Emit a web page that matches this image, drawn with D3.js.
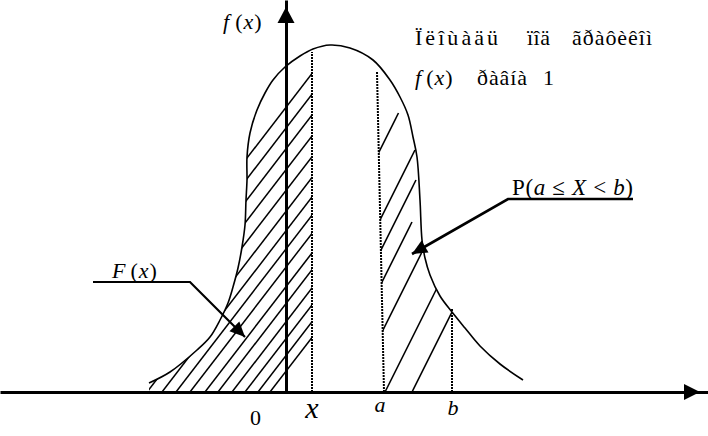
<!DOCTYPE html>
<html>
<head>
<meta charset="utf-8">
<script src="https://cdn.jsdelivr.net/npm/d3@7"></script>
<style>
body { margin: 0; background: #fff; }
text { font-family: "Liberation Serif", "Times New Roman", serif; fill: #000; }
.it { font-style: italic; }
</style>
</head>
<body>
<script>
// drawing units: u = right of the f(x) axis, v = above the x axis
var curveU = [-137,-116,-89,-76,-66,-58,-53,-48,-44,-41,-40,-39,-39,-36,-29,-21,-13,-1,14,27,44,64,87,104,114,122,127,131,134,136,139,144,154,166,179,194,214,237];
var curveV = [9,20,42,55,72,89,105,124,145,167,192,212,235,259,282,299,312,325,336,343,347,344,332,312,295,277,255,235,192,152,134,117,96,80,64,46,28,12];

var xMark = 26, xMarkTop = 340;          // vertical at x
var aBottom = 98, aTopU = 91, aTopV = 320; // vertical at a (drawn a bit slanted)
var bMark = 166, bMarkTop = 83;          // vertical at b

var leftSlope = 1.3;
var leftHatch = [-219,-203,-187,-171,-155,-139,-124,-110,-96,-81,-68,-54,-41,-28,-16];
var rightSlope = 2;
var rightHatch = [-27, 8, 24, 41, 66, 99, 126];
var rightTop = [279, 242, 212, 170, 139, 105, 82];

var fLeaderU = [-193, -96, -41], fLeaderV = [110, 110, 55];
var pLeaderU = [347, 222, 126], pLeaderV = [193, 193, 138];

var axisEnds = { x: [-286, 414], y: [-44, 385] };

var W = 708, H = 436;
var x = d3.scaleLinear().domain([-286, 422]).range([0, W]);
var y = d3.scaleLinear().domain([0, 392]).range([392, 0]);

var svg = d3.select('body').append('svg').attr('width', W).attr('height', H);
var defs = svg.append('defs');

var pts = d3.zip(curveU, curveV);
var smooth = d3.curveCatmullRom.alpha(0.5);
var line = d3.line().x(d => x(d[0])).y(d => y(d[1])).curve(smooth);
var area = d3.area().x(d => x(d[0])).y0(y(0)).y1(d => y(d[1])).curve(smooth);
var seg = d3.line().x(d => x(d[0])).y(d => y(d[1]));

// arrow head at the end of p0->p1 (drawing units), len/half in px
function head(p0, p1, len, half) {
	var x0 = x(p0[0]), y0 = y(p0[1]), x1 = x(p1[0]), y1 = y(p1[1]);
	var dx = x1 - x0, dy = y1 - y0, n = Math.hypot(dx, dy);
	dx /= n; dy /= n;
	var bx = x1 - dx * len, by = y1 - dy * len;
	svg.append('path')
		.attr('d', 'M' + x1 + ',' + y1 + 'L' + (bx - dy * half) + ',' + (by + dx * half) + 'L' + (bx + dy * half) + ',' + (by - dx * half) + 'Z')
		.attr('fill', '#000');
}

// clips
defs.append('clipPath').attr('id', 'under').append('path').attr('d', area(pts));
defs.append('clipPath').attr('id', 'leftOfX').append('rect')
	.attr('x', 0).attr('y', 0).attr('width', x(xMark)).attr('height', H);
var aSlant = (aBottom - aTopU) / aTopV;
defs.append('clipPath').attr('id', 'ab').append('path')
	.attr('d', seg([[aBottom, 0], [aBottom - aSlant * 420, 420], [bMark, 420], [bMark, 0]]) + 'Z');

// hatching, F(x)
svg.append('g').attr('clip-path', 'url(#under)')
	.append('g').attr('clip-path', 'url(#leftOfX)')
	.selectAll('path').data(leftHatch).join('path')
	.attr('d', d => seg([[d, 0], [d + 400 / leftSlope, 400]]))
	.attr('stroke', '#000').attr('stroke-width', 1.5).attr('fill', 'none');

// hatching, P(a <= X < b)
svg.append('g').attr('clip-path', 'url(#under)')
	.append('g').attr('clip-path', 'url(#ab)')
	.selectAll('path').data(d3.zip(rightHatch, rightTop)).join('path')
	.attr('d', d => seg([[d[0], 0], [d[0] + d[1] / rightSlope, d[1]]]))
	.attr('stroke', '#000').attr('stroke-width', 1.6).attr('fill', 'none');

// dotted verticals
svg.selectAll('path.vert')
	.data([[[xMark, 0], [xMark, xMarkTop]], [[aBottom, 0], [aTopU, aTopV]], [[bMark, 0], [bMark, bMarkTop]]])
	.join('path').attr('class', 'vert')
	.attr('d', seg)
	.attr('stroke', '#000').attr('stroke-width', 2).attr('stroke-dasharray', '2,1').attr('fill', 'none');

// the curve
svg.append('path').attr('d', line(pts))
	.attr('fill', 'none').attr('stroke', '#000').attr('stroke-width', 1.6);

// axes
var xa = x.copy().domain([axisEnds.x[0], axisEnds.x[1] - 8]);
var ya = y.copy().domain([axisEnds.y[0], axisEnds.y[1] - 8]);
svg.append('g').attr('transform', 'translate(0,' + y(0) + ')')
	.call(d3.axisBottom(xa).tickValues([]).tickSizeOuter(0));
svg.append('g').attr('transform', 'translate(' + x(0) + ',0)')
	.call(d3.axisLeft(ya).tickValues([]).tickSizeOuter(0));
svg.selectAll('.domain').attr('stroke-width', 3);
head([0, 0], [axisEnds.x[1], 0], 16, 8);
head([0, 0], [0, axisEnds.y[1]], 16, 8.5);

// leaders
var fl = d3.zip(fLeaderU, fLeaderV), pl = d3.zip(pLeaderU, pLeaderV);
svg.append('path').attr('d', seg(fl))
	.attr('fill', 'none').attr('stroke', '#000').attr('stroke-width', 2.2);
head(fl[1], fl[2], 15, 7);
svg.append('path').attr('d', seg(pl))
	.attr('fill', 'none').attr('stroke', '#000').attr('stroke-width', 2.6);
head(pl[1], pl[2], 15, 7);

// text
function eq(u, v, size, parts, anchor) {
	var t = svg.append('text').attr('x', x(u)).attr('y', y(v))
		.style('font-size', size + 'px').attr('text-anchor', anchor || 'start');
	parts.forEach(p => t.append('tspan').attr('class', p[1] ? 'it' : null).attr('dx', p[2] || 0).text(p[0]));
	return t;
}
eq(-63, 363, 22, [['f', 1], ['(', 0, 6], ['x', 1, 1], [')', 0, 1]]);

var title1 = ['Ïëîùàäü', 'ïîä', 'ãðàôèêîì'];
var title1U = [129, 241, 286], title1W = [83, 23, 80];
svg.selectAll('text.t1').data(title1).join('text').attr('class', 't1')
	.attr('x', (d, i) => x(title1U[i])).attr('y', y(347))
	.attr('textLength', (d, i) => title1W[i]).attr('lengthAdjust', 'spacing')
	.style('font-size', '22px').text(d => d);

eq(129, 307, 22, [['f', 1], ['(', 0, 5], ['x', 1, 1], [')', 0, 1]]);
svg.append('text').attr('x', x(191)).attr('y', y(307)).attr('textLength', 50)
	.style('font-size', '22px').text('ðàâíà');
svg.append('text').attr('x', x(257)).attr('y', y(307)).style('font-size', '22px').text('1');

eq(-174, 114, 22, [['F', 1], ['(', 0, 5], ['x', 1, 1], [')', 0, 1]]);
eq(226, 197, 23, [['P(', 0], ['a', 1], [' ≤ ', 0], ['X', 1], [' < ', 0], ['b', 1], [')', 0]])
	.attr('textLength', 121);

eq(-30.5, -33, 22, [['0', 0]], 'middle');
eq(26, -26, 30, [['x', 1]], 'middle').attr('textLength', 24);
eq(94, -20, 22, [['a', 1]], 'middle');
eq(167, -23, 22, [['b', 1]], 'middle');
</script>
</body>
</html>
